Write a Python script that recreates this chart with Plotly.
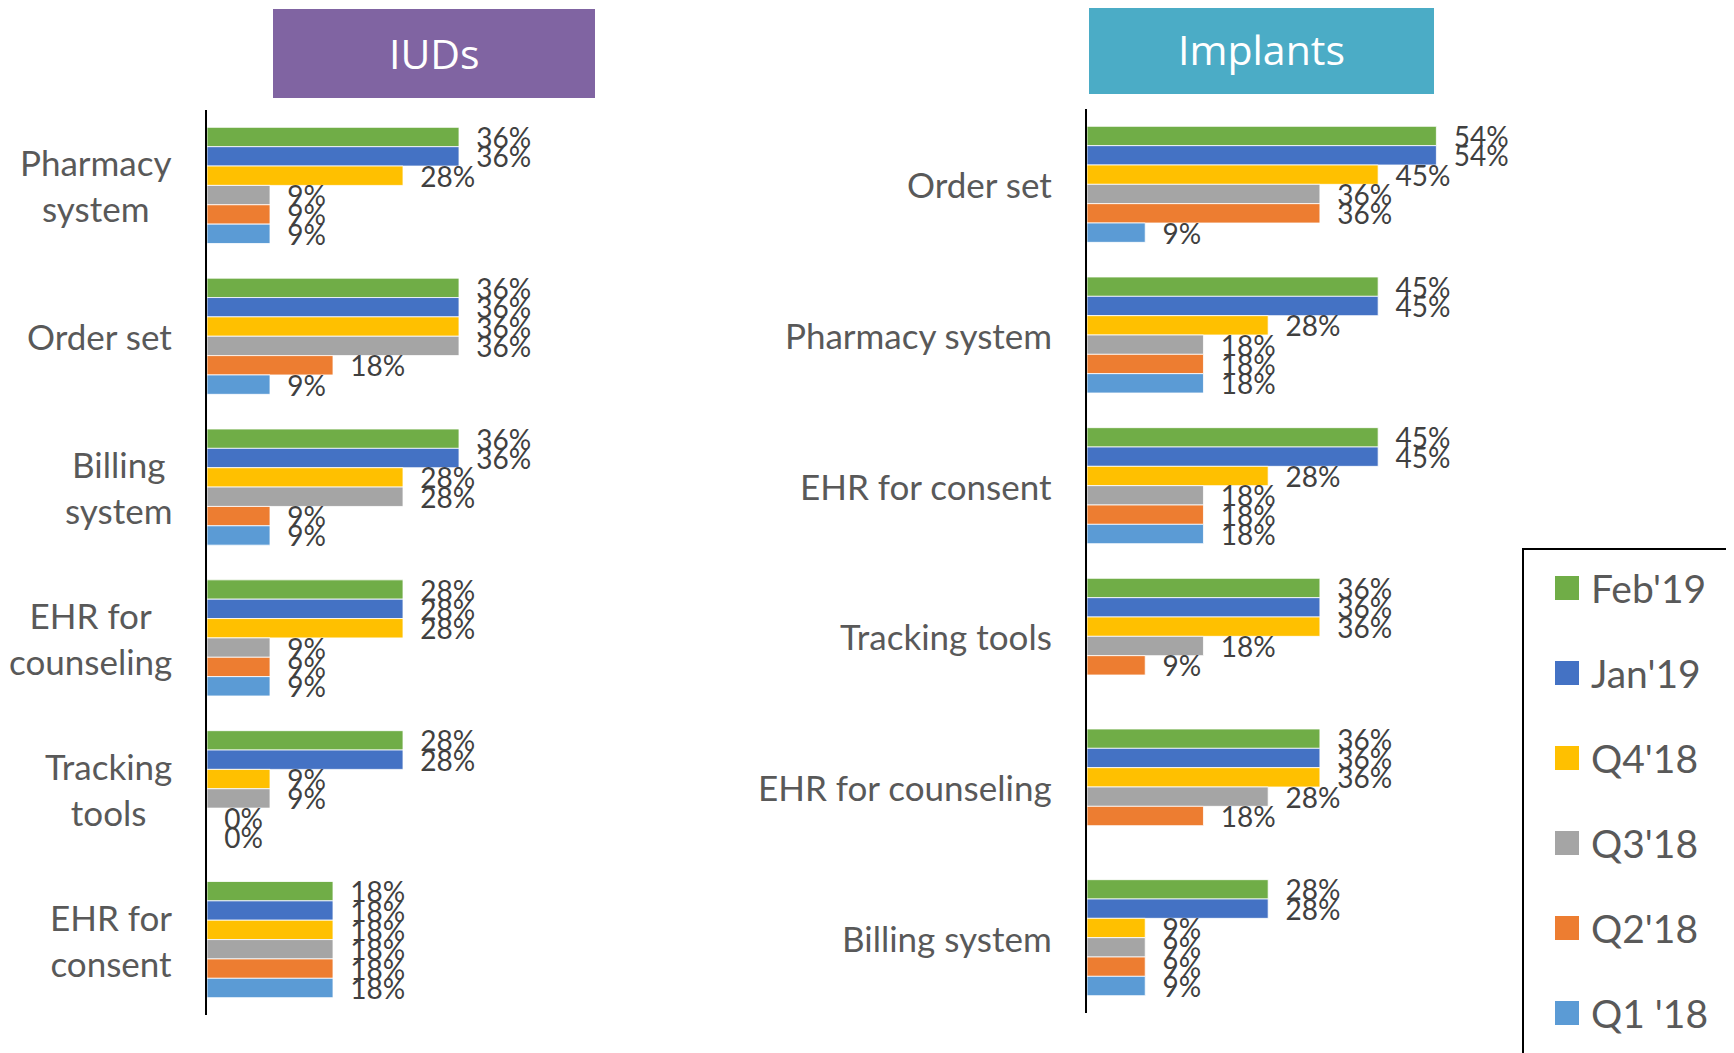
import plotly.graph_objects as go

W, H = 1734, 1053
OFF = 8  # page body margin in the browser

series = ["Feb'19", "Jan'19", "Q4'18", "Q3'18", "Q2'18", "Q1 '18"]
colors = ["#70AD47", "#4472C4", "#FFC000", "#A5A5A5", "#ED7D31", "#5B9BD5"]

iud_cats = ["Pharmacy system", "Order set", "Billing system",
            "EHR for counseling", "Tracking tools", "EHR for consent"]
iud_labels = ["Pharmacy<br>system", "Order set", "Billing<br>system",
              "EHR for<br>counseling", "Tracking<br>tools", "EHR for<br>consent"]
iud_vals = {
    "Feb'19": [36, 36, 36, 28, 28, 18],
    "Jan'19": [36, 36, 36, 28, 28, 18],
    "Q4'18":  [28, 36, 28, 28, 9, 18],
    "Q3'18":  [9, 36, 28, 9, 9, 18],
    "Q2'18":  [9, 18, 9, 9, 0, 18],
    "Q1 '18": [9, 9, 9, 9, 0, 18],
}

imp_cats = ["Order set", "Pharmacy system", "EHR for consent",
            "Tracking tools", "EHR for counseling", "Billing system"]
imp_vals = {
    "Feb'19": [54, 45, 45, 36, 36, 28],
    "Jan'19": [54, 45, 45, 36, 36, 28],
    "Q4'18":  [45, 28, 28, 36, 36, 9],
    "Q3'18":  [36, 18, 18, 18, 28, 9],
    "Q2'18":  [36, 18, 18, 9, 18, 9],
    "Q1 '18": [9, 18, 18, None, None, 9],
}

panel_titles = ["IUDs", "Implants"]
panel_colors = ["#8064A2", "#4BACC6"]

FONT = "Lato, 'Open Sans', sans-serif"
LABEL_COLOR = "#404040"

fig = go.Figure()

def px_x(p):
    return (p - OFF) / W

def px_y(p):
    return 1 - (p - OFF) / H

for i, s in enumerate(series):
    fig.add_trace(go.Bar(
        y=iud_cats, x=iud_vals[s], orientation="h", name=s,
        marker=dict(color=colors[i], line=dict(color="white", width=0.8)),
        xaxis="x", yaxis="y",
        texttemplate="\u00a0\u00a0%{x}%", textposition="outside",
        constraintext="none", cliponaxis=False,
        textfont=dict(family=FONT, size=28, color=LABEL_COLOR),
        showlegend=False,
    ))
    fig.add_trace(go.Bar(
        y=imp_cats, x=imp_vals[s], orientation="h", name=s,
        marker=dict(color=colors[i], line=dict(color="white", width=0.8)),
        xaxis="x2", yaxis="y2",
        texttemplate="\u00a0\u00a0%{x}%", textposition="outside",
        constraintext="none", cliponaxis=False,
        textfont=dict(family=FONT, size=28, color=LABEL_COLOR),
        showlegend=False,
    ))

left_x0, right_x0 = 207, 1087
left_ppu, right_ppu = 7.0, 6.47
left_x1, right_x1 = 640, 1500

fig.update_layout(
    width=W, height=H,
    margin=dict(l=0, r=0, t=0, b=0),
    paper_bgcolor="white", plot_bgcolor="rgba(0,0,0,0)",
    barmode="group", bargap=0.23, bargroupgap=0,
    xaxis=dict(domain=[px_x(left_x0), px_x(left_x1)],
               range=[0, (left_x1 - left_x0) / left_ppu],
               visible=False, fixedrange=True),
    yaxis=dict(domain=[px_y(1015), px_y(110)], autorange="reversed",
               showticklabels=False, ticks="", showgrid=False,
               showline=True, linecolor="black", linewidth=2, anchor="x"),
    xaxis2=dict(domain=[px_x(right_x0), px_x(right_x1)],
                range=[0, (right_x1 - right_x0) / right_ppu],
                visible=False, fixedrange=True, anchor="y2"),
    yaxis2=dict(domain=[px_y(1013), px_y(109)], autorange="reversed",
                showticklabels=False, ticks="", showgrid=False,
                showline=True, linecolor="black", linewidth=2, anchor="x2"),
)

annotations = []
for c, lab in zip(iud_cats, iud_labels):
    annotations.append(dict(
        x=px_x(174), xref="paper", y=c, yref="y", text=lab,
        xanchor="right", align="center", showarrow=False,
        font=dict(family=FONT, size=35, color="#595959"),
    ))
for c in imp_cats:
    annotations.append(dict(
        x=px_x(1054), xref="paper", y=c, yref="y2", text=c,
        xanchor="right", align="right", showarrow=False,
        font=dict(family=FONT, size=35, color="#595959"),
    ))

shapes = []
# panel title boxes
boxes = [(273, 9, 595, 98), (1089, 4, 1434, 94)]
for (x0, y0, x1, y1), t, col in zip(boxes, panel_titles, panel_colors):
    shapes.append(dict(type="rect", xref="paper", yref="paper",
                       x0=px_x(x0), x1=px_x(x1), y0=px_y(y1), y1=px_y(y0),
                       fillcolor=col, line=dict(width=0), layer="below"))
    annotations.append(dict(
        x=px_x((x0 + x1) / 2), y=px_y((y0 + y1) / 2), xref="paper", yref="paper",
        text=t, showarrow=False, xanchor="center", yanchor="middle",
        font=dict(family="'Open Sans', sans-serif", size=41, color="white"),
    ))

# legend
shapes.append(dict(type="rect", xref="paper", yref="paper",
                   x0=px_x(1523), x1=px_x(1731), y0=px_y(1070), y1=px_y(549),
                   fillcolor="white", line=dict(color="black", width=2)))
leg_y0, leg_dy = 588, 85
for i, s in enumerate(series):
    cy = leg_y0 + i * leg_dy
    shapes.append(dict(type="rect", xref="paper", yref="paper",
                       x0=px_x(1555), x1=px_x(1579),
                       y0=px_y(cy + 12), y1=px_y(cy - 12),
                       fillcolor=colors[i], line=dict(width=0)))
    annotations.append(dict(
        x=px_x(1589), y=px_y(cy), xref="paper", yref="paper",
        text=s, showarrow=False, xanchor="left", yanchor="middle",
        font=dict(family=FONT, size=39, color="#595959"),
    ))

fig.update_layout(annotations=annotations, shapes=shapes)
fig.write_html("out.html")
